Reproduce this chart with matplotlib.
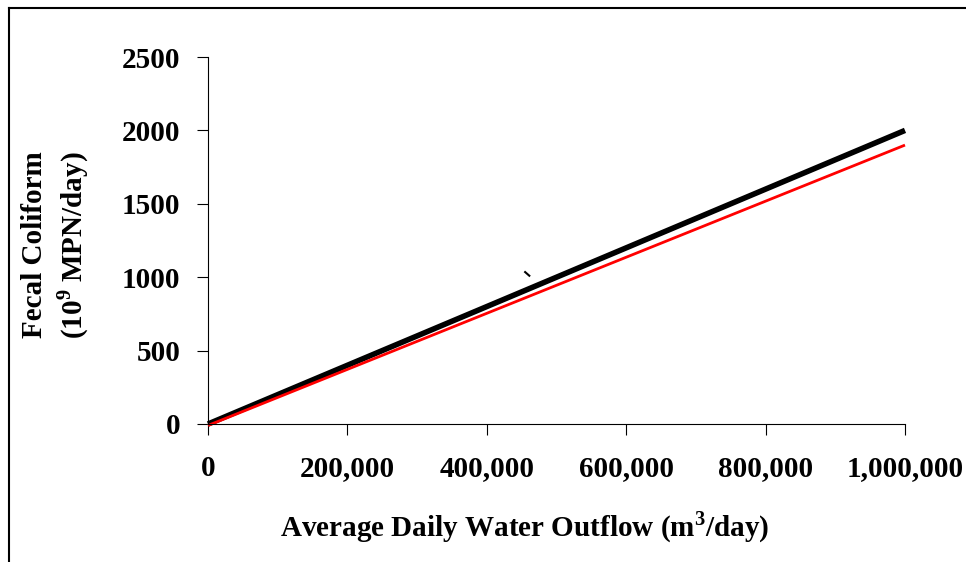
import matplotlib
matplotlib.use('Agg')
import matplotlib.pyplot as plt
from matplotlib.lines import Line2D
from matplotlib.ticker import FuncFormatter

# data
flow = [0, 1000000]
fecal_black = [0, 2000]
fecal_red = [-10, 1900]
stray_x = [455000, 461000]
stray_y = [1035, 1010]

plt.rcParams['font.family'] = 'Liberation Serif'
plt.rcParams['font.weight'] = 'bold'
plt.rcParams['mathtext.fontset'] = 'custom'
plt.rcParams['mathtext.rm'] = 'Liberation Serif:bold'
plt.rcParams['mathtext.bf'] = 'Liberation Serif:bold'

fig = plt.figure(figsize=(9.66, 5.62), dpi=100)
ax = fig.add_axes([208/966, 1 - 424/562, 697/966, 367/562])

ax.plot(flow, fecal_black, color='black', lw=4, solid_capstyle='butt', clip_on=False)
ax.plot(flow, fecal_red, color='red', lw=2, solid_capstyle='butt', clip_on=False)
ax.plot(stray_x, stray_y, color='black', lw=1.5)

ax.set_xlim(0, 1000000)
ax.set_ylim(0, 2500)
ax.set_xticks([0, 200000, 400000, 600000, 800000, 1000000])
ax.set_yticks([0, 500, 1000, 1500, 2000, 2500])
ax.xaxis.set_major_formatter(FuncFormatter(lambda v, p: f'{int(v):,}'))

for s in ['top', 'right']:
    ax.spines[s].set_visible(False)
for s in ['left', 'bottom']:
    ax.spines[s].set_linewidth(0.8)
ax.tick_params(direction='out', length=8, width=0.8, labelsize=21)
ax.tick_params(axis='x', pad=14)
ax.tick_params(axis='y', pad=12)

fig.text(525/966, 1 - 527/562, 'Average Daily Water Outflow (m$^{3}$/day)',
         ha='center', va='center', fontsize=21, fontweight='bold')
fig.text(35/966, 1 - 245/562, 'Fecal Coliform', rotation=90,
         ha='center', va='center', fontsize=21, fontweight='bold')
fig.text(73/966, 1 - 245/562, '(10$^{9}$ MPN/day)', rotation=90,
         ha='center', va='center', fontsize=21, fontweight='bold')

# chart frame (left and top edges visible)
fig.add_artist(Line2D([9/966, 9/966], [0, 1 - 8/562], color='black', lw=1.5,
                      transform=fig.transFigure))
fig.add_artist(Line2D([9/966, 1], [1 - 8/562, 1 - 8/562], color='black', lw=1.5,
                      transform=fig.transFigure))

fig.savefig('out.png', dpi=100)
